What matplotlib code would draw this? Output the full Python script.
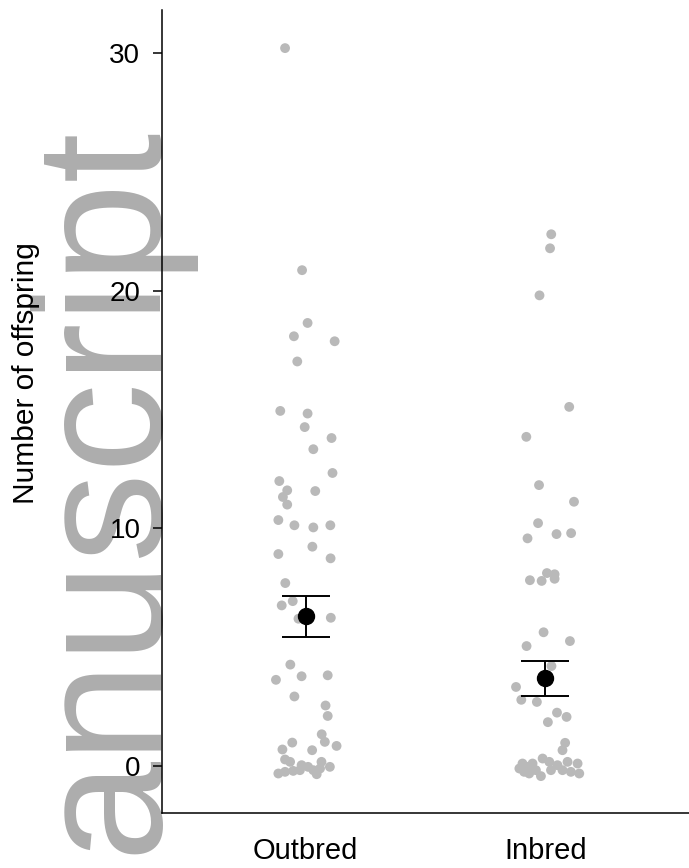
import matplotlib.pyplot as plt

plt.rcParams['font.family'] = ['Liberation Sans', 'DejaVu Sans']

# Groups
groups = ['Outbred', 'Inbred']

# Individual offspring counts (value, horizontal jitter)
outbred_values = [30.2, 20.86, 18.64, 18.08, 17.87, 17.02, 14.94, 14.83, 14.26, 13.8,
                  13.33, 12.33, 11.99, 11.6, 11.32, 11.0, 11.57, 10.35, 10.13, 10.04,
                  10.13, 9.23, 8.92, 8.74, 7.7, 6.94, 6.76, 6.2, 6.24, 4.27,
                  3.63, 3.78, 3.82, 2.93, 2.55, 2.11, 1.34, 1.02, 0.99, 0.85,
                  0.7, 0.67, 0.28, 0.18, 0.04, -0.03, 0.18, -0.03, -0.31, -0.24,
                  -0.2, -0.17, -0.17, -0.34, -0.1]
outbred_jitter = [-0.086, -0.015, 0.008, -0.049, 0.121, -0.035, -0.106, 0.008, -0.004, 0.108,
                  0.032, 0.112, -0.11, -0.077, -0.095, -0.077, 0.04, -0.114, -0.047, 0.032,
                  0.103, 0.028, -0.114, 0.104, -0.085, -0.054, -0.1, -0.03, 0.105, -0.064,
                  -0.124, -0.017, 0.092, -0.047, 0.083, 0.092, 0.067, 0.08, -0.056, 0.129,
                  -0.097, 0.027, -0.086, -0.065, -0.017, 0.01, 0.066, 0.101, -0.114, -0.086,
                  -0.052, -0.024, 0.032, 0.046, 0.06]

inbred_values = [22.37, 21.78, 19.8, 15.11, 13.85, 11.82, 11.12, 10.22, 9.58, 9.76,
                 9.8, 8.12, 8.07, 7.88, 7.82, 7.79, 5.63, 5.05, 5.26, 4.21,
                 3.33, 2.79, 2.7, 2.25, 2.07, 1.85, 0.98, 0.67, 0.11, -0.03,
                 -0.24, 0.11, -0.42, 0.32, 0.18, -0.17, 0.04, -0.17, 0.18, -0.24,
                 0.11, -0.31, -0.17, -0.31, -0.1]
inbred_jitter = [0.025, 0.02, -0.024, 0.1, -0.079, -0.026, 0.12, -0.03, -0.074, 0.047,
                 0.108, 0.007, 0.039, 0.039, -0.064, -0.015, -0.007, -0.078, 0.103, 0.026,
                 -0.122, -0.1, -0.035, 0.049, 0.089, 0.011, 0.083, 0.072, -0.095, -0.074,
                 -0.088, -0.053, -0.018, -0.011, 0.017, 0.024, 0.051, 0.072, 0.093, 0.107,
                 0.135, 0.142, -0.039, -0.067, -0.108]

# Group means and standard errors
means = [6.3, 3.7]
sems = [0.87, 0.73]

fig = plt.figure(figsize=(6.89, 8.68), dpi=100)
ax = fig.add_axes([0.235, 0.0634, 0.765, 0.925])
ax.patch.set_alpha(0)

# watermark behind the axes
fig.text(0.224, 0.857, 'anuscript', rotation=90, rotation_mode='anchor',
         ha='right', va='baseline', fontsize=129.5, color='#adadad', zorder=-1)

point_colour = '#b9b9b9'
ax.scatter([0 + j for j in outbred_jitter], outbred_values, s=50,
           color=point_colour, edgecolors='none', zorder=2)
ax.scatter([1 + j for j in inbred_jitter], inbred_values, s=50,
           color=point_colour, edgecolors='none', zorder=2)

ax.errorbar(range(len(groups)), means, yerr=sems, fmt='o', color='black',
            markersize=11.5, elinewidth=1.4, capsize=17, capthick=1.4, zorder=3)

ax.set_xlim(-0.6, 1.6)
ax.set_ylim(-1.97, 31.8)
ax.set_xticks(range(len(groups)))
ax.set_xticklabels(groups, fontsize=21)
ax.set_yticks([0, 10, 20, 30])
ax.tick_params(axis='y', labelsize=20, length=6.5, width=1.1, pad=9)
ax.tick_params(axis='x', length=0, pad=17)
ax.set_ylabel('Number of offspring', fontsize=21.5)
ax.yaxis.set_label_coords(-0.232, 0.548)

for side in ['top', 'right']:
    ax.spines[side].set_visible(False)
for side in ['left', 'bottom']:
    ax.spines[side].set_linewidth(1.1)

plt.savefig('out.png', dpi=100)
